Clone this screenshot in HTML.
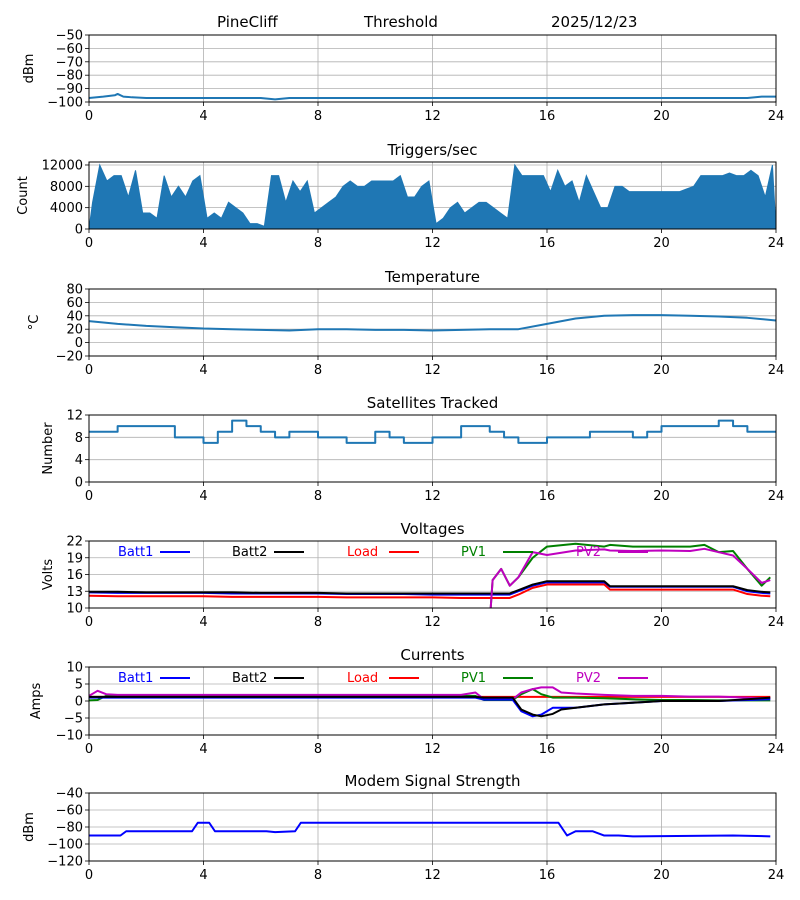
<!DOCTYPE html>
<html><head><meta charset="utf-8"><style>
body{margin:0;background:#fff}
svg{display:block;font-family:"DejaVu Sans","Liberation Sans",sans-serif}
</style></head><body>
<svg id="c" width="800" height="900">
<text x="217" y="27" font-size="15">PineCliff</text>
<text x="364" y="27" font-size="15">Threshold</text>
<text x="551" y="27" font-size="15">2025/12/23</text>
</svg>
<script>
// ---- data ----
const xTicks=[0,4,8,12,16,20,24];
const sigT=[0,0.5,0.9,1.0,1.2,1.5,2,3,4,5,6,6.5,7,8,10,12,14,16,18,20,22,23,23.5,24];
const sigV=[-97,-96,-95,-94,-96,-96.5,-97,-97,-97,-97,-97,-98,-97,-97,-97,-97,-97,-97,-97,-97,-97,-97,-96,-96];
const trigPeaks=[5,12,9,10,10,6,11,3,3,2,10,6,8,6,9,10,2,3,2,5,4,3,1,1,0.5,10,10,5,9,7,9,3,4,5,6,8,9,8,8,9,9,9,9,10,6,6,8,9,1,2,4,5,3,4,5,5,4,3,2,12,10,10,10,10,7,11,8,9,5,10,7,4,4,8,8,7,7,7,7,7,7,7,7,7.5,8,10,10,10,10,10.5,10,10,11,10,6,12];
const tempT=[0,1,2,3,4,5,6,7,8,9,10,11,12,13,14,15,16,17,18,19,20,21,22,23,24];
const tempV=[32,28,25,23,21,20,19,18,20,20,19,19,18,19,20,20,28,36,40,41,41,40,39,37,33];
const satV=[9,9,10,10,10,10,8,8,7,9,11,10,9,8,9,9,8,8,7,7,9,8,7,7,8,8,10,10,9,8,7,7,8,8,8,9,9,9,8,9,10,10,10,10,11,10,9,9,9];
const vT=[0,1,2,3,4,5,6,7,8,9,10,11,12,13,13.9,14.1,14.4,14.7,15,15.5,16,17,18,18.2,19,20,21,21.5,22,22.5,23,23.5,23.8];
const batt1V=[12.8,12.7,12.7,12.7,12.7,12.6,12.6,12.6,12.6,12.5,12.5,12.5,12.4,12.4,12.4,12.4,12.4,12.4,13,14,14.6,14.6,14.6,13.8,13.8,13.8,13.8,13.8,13.8,13.8,13,12.7,12.6];
const batt2V=[12.9,12.9,12.8,12.8,12.8,12.8,12.7,12.7,12.7,12.6,12.6,12.6,12.6,12.6,12.6,12.6,12.6,12.6,13.2,14.2,14.8,14.8,14.8,13.9,13.9,13.9,13.9,13.9,13.9,13.9,13.2,12.9,12.8];
const loadV=[12.2,12.1,12.1,12.1,12.1,12,12,12,12,11.9,11.9,11.9,11.9,11.8,11.8,11.8,11.8,11.8,12.4,13.6,14.2,14.2,14.2,13.3,13.3,13.3,13.3,13.3,13.3,13.3,12.5,12.2,12.1];
const pv1V=[0,0,0,0,0,0,0,0,0,0,0,0,0,0,0,15,17,14,15.5,19,21,21.5,21,21.3,21,21,21,21.3,20,20.2,17,14,15.5];
const pv2V=[0,0,0,0,0,0,0,0,0,0,0,0,0,0,0,15,17,14,15.5,20,19.5,20.3,20.5,20.3,20.2,20.3,20.2,20.6,20,19.4,17,14.5,15];
const iT=[0,0.3,0.6,1,2,4,6,8,10,12,13,13.5,13.8,14.8,15.1,15.5,15.8,16.2,16.5,17,18,19,20,21,22,23,23.8];
const batt1I=[1,1,1,1,1,1,1,1,1,1,1,1,0.4,0.4,-3,-4.5,-4,-2,-2,-2,-1,-0.5,0,0,0,0.3,0.5];
const batt2I=[1.2,1.2,1.2,1.2,1.2,1.2,1.2,1.2,1.2,1.2,1.2,1.2,1,1,-2.5,-4,-4.5,-3.8,-2.5,-2,-1,-0.5,0,0,0,0.5,1];
const loadI=[1.2,1.2,1.2,1.2,1.2,1.2,1.2,1.2,1.2,1.2,1.2,1.2,1.2,1.2,1.2,1.2,1.2,1.2,1.2,1.2,1.2,1.2,1.2,1.2,1.2,1.2,1.2];
const pv1I=[0.2,0.3,1.5,1.5,1.5,1.5,1.5,1.5,1.5,1.5,1.5,1.5,0.3,0.3,2,3.5,2,1,1,1,0.8,0.5,0.3,0.3,0.2,0.2,0.2];
const pv2I=[1.5,3,2,1.8,1.8,1.8,1.8,1.8,1.8,1.8,1.8,2.5,0.5,0.5,2.5,3.5,4,4,2.5,2.2,1.8,1.5,1.5,1.3,1.3,1,0.8];
const modT=[0,1.1,1.3,3.6,3.8,4.2,4.4,6.2,6.5,7.2,7.4,16.4,16.7,17,17.6,18,18.5,19,22.5,23.8];
const modV=[-90,-90,-85,-85,-75,-75,-85,-85,-86,-85,-75,-75,-90,-85,-85,-90,-90,-91,-90,-91];
// ---- layout ----
const svg=document.getElementById('c');const NS='http://www.w3.org/2000/svg';
const L=89,R=776;
function el(t,a,p){const e=document.createElementNS(NS,t);for(const k in a)e.setAttribute(k,a[k]);(p||svg).appendChild(e);return e;}
const sx=t=>L+(R-L)*t/24;
const fmt=v=>String(v).replace('-','\u2212');
function panel(name,top,bot,ymin,ymax,yticks,title,ylabel,lx){
  const g=el('g',{});
  
  
  const sy=v=>bot-(bot-top)*(v-ymin)/(ymax-ymin);
  xTicks.forEach(t=>{el('line',{x1:sx(t),x2:sx(t),y1:top,y2:bot,stroke:'#b0b0b0','stroke-width':0.8},g);
    el('line',{x1:sx(t),x2:sx(t),y1:bot,y2:bot+4,stroke:'#000','stroke-width':0.8},g);
    const tx=el('text',{x:sx(t),y:bot+18,'font-size':13,'text-anchor':'middle'},g);tx.textContent=t;
    
    });
  yticks.forEach(v=>{el('line',{x1:L,x2:R,y1:sy(v),y2:sy(v),stroke:'#b0b0b0','stroke-width':0.8},g);
    el('line',{x1:L-4,x2:L,y1:sy(v),y2:sy(v),stroke:'#000','stroke-width':0.8},g);
    const tx=el('text',{x:L-6,y:sy(v)+4.5,'font-size':13,'text-anchor':'end'},g);tx.textContent=fmt(v);
    
    });
  if(title){const tt=el('text',{x:(L+R)/2,y:top-7,'font-size':15,'text-anchor':'middle'},g);tt.textContent=title;
    
    }
  const yl=el('text',{x:lx,y:(top+bot)/2,'font-size':13,'text-anchor':'middle',transform:`rotate(-90 ${lx} ${(top+bot)/2})`},g);yl.textContent=ylabel;
  
  
  const cid='clip'+name;const cp=el('clipPath',{id:cid},g);el('rect',{x:L,y:top,width:R-L,height:bot-top},cp);
  const plot=el('g',{'clip-path':`url(#${cid})`},g);
  el('rect',{x:L,y:top,width:R-L,height:bot-top,fill:'none',stroke:'#000','stroke-width':1},g);
  return {plot,sy,g};
}
function line(p,T,V,color,name,step){
  let d='';T.forEach((t,i)=>{const x=sx(t),y=p.sy(V[i]);
    if(i===0)d='M'+x+' '+y;else if(step)d+=' H'+x+' V'+y;else d+=' L'+x+' '+y;});
  const e=el('path',{d,fill:'none',stroke:color,'stroke-width':2,'stroke-linejoin':'round'},p.plot);
  
  
}
function legend(p,y){
  const items=[['Batt1','#0000ff',118],['Batt2','#000000',232],['Load','#ff0000',347],['PV1','#008000',461],['PV2','#bf00bf',576]];
  items.forEach(([n,c,x])=>{const t=el('text',{x,y:y+4,'font-size':13,fill:c},p.g);t.textContent=n;
    
    
    el('line',{x1:x+42,x2:x+72,y1:y,y2:y,stroke:c,'stroke-width':2},p.g);});
}
const C='#1f77b4';
let p=panel('signal',35,102,-100,-50,[-100,-90,-80,-70,-60,-50],null,'dBm',33);
line(p,sigT,sigV,C,'signal-line');
p=panel('triggers',162,229,0,12560,[0,4000,8000,12000],'Triggers/sec','Count',27);
{let d='M'+sx(0)+' '+p.sy(0);trigPeaks.forEach((v,i)=>{d+=' L'+sx(i*0.25+0.125)+' '+p.sy(v*1000);});d+=' L'+sx(24)+' '+p.sy(0)+' Z';
 const e=el('path',{d,fill:C,stroke:C,'stroke-width':1},p.plot);
 
 }
p=panel('temperature',289,356,-20,80,[-20,0,20,40,60,80],'Temperature','°C',38);
line(p,tempT,tempV,C,'temperature-line');
p=panel('satellites',415,482,0,12,[0,4,8,12],'Satellites Tracked','Number',52);
line(p,satV.map((v,i)=>i*0.5),satV,C,'satellites-line',true);
p=panel('voltages',541,608,10,22,[10,13,16,19,22],'Voltages','Volts',52);
line(p,vT,batt1V,'#0000ff','batt1-voltage');line(p,vT,batt2V,'#000000','batt2-voltage');line(p,vT,loadV,'#ff0000','load-voltage');
line(p,vT,pv1V,'#008000','pv1-voltage');line(p,vT,pv2V,'#bf00bf','pv2-voltage');legend(p,552);
p=panel('currents',667,735,-10,10,[-10,-5,0,5,10],'Currents','Amps',40);
line(p,iT,loadI,'#ff0000','load-current');line(p,iT,pv1I,'#008000','pv1-current');line(p,iT,pv2I,'#bf00bf','pv2-current');
line(p,iT,batt1I,'#0000ff','batt1-current');line(p,iT,batt2I,'#000000','batt2-current');legend(p,678);
p=panel('modem',793,861,-120,-40,[-120,-100,-80,-60,-40],'Modem Signal Strength','dBm',33);
line(p,modT,modV,'#0000ff','modem-line');
</script>
</body></html>
